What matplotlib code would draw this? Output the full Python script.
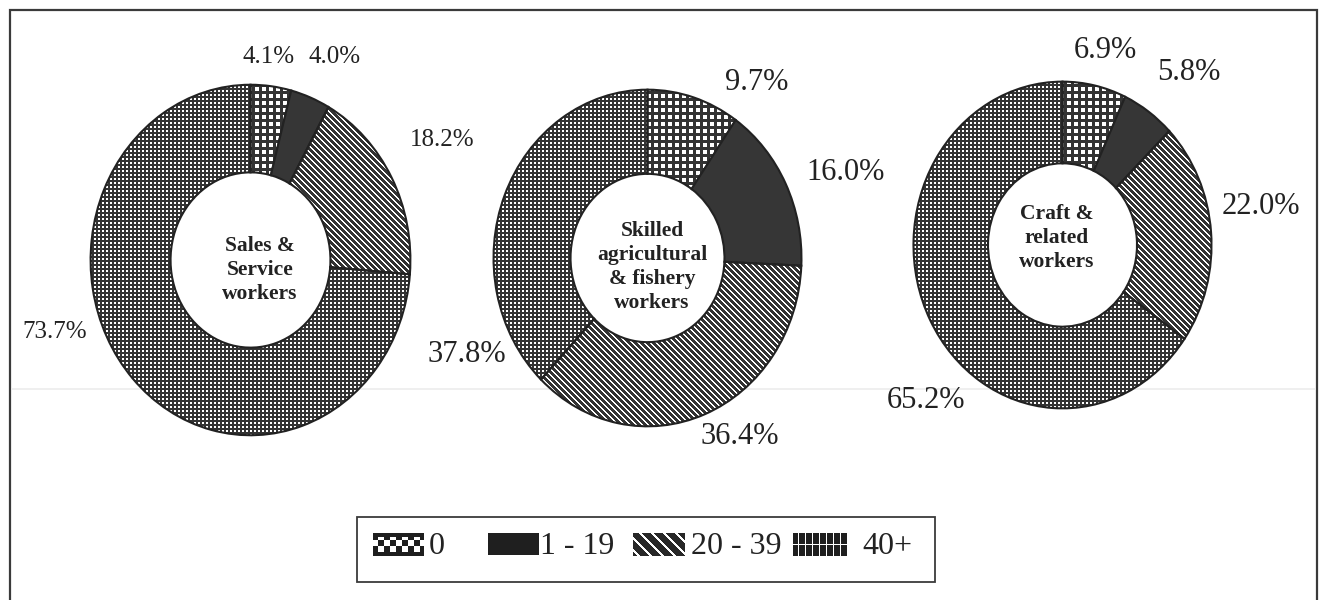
import numpy as np
import matplotlib
matplotlib.use("Agg")
import matplotlib.pyplot as plt
from matplotlib.patches import Rectangle

plt.rcParams['font.family'] = ['Liberation Serif', 'DejaVu Serif']

# ---- data -------------------------------------------------------------
groups = ["0", "1 - 19", "20 - 39", "40+"]
occupations = [
    "Sales &\nService\nworkers",
    "Skilled\nagricultural\n& fishery\nworkers",
    "Craft &\nrelated\nworkers",
]
sales_service = [4.1, 4.0, 18.2, 73.7]
skilled_agri = [9.7, 16.0, 36.4, 37.8]
craft_related = [6.9, 5.8, 22.0, 65.2]
shares = [sales_service, skilled_agri, craft_related]

# ---- layout -----------------------------------------------------------
W, H = 1324, 600
DARK = (0.2, 0.2, 0.2, 1.0)
WHITE = (1.0, 1.0, 1.0, 1.0)
INK = "#222222"

# donut placement (pixel centre x, centre y, half width, half height)
donut_boxes = [
    (250.5, 260, 161.5, 177),
    (647.5, 258, 155.5, 170),
    (1062.5, 245, 150.5, 165),
]
label_font = [18, 22, 22]
# percentage label anchors, per donut and per group (pixels)
label_xy = [
    [(269, 57), (335, 57), (442, 140), (55, 332)],
    [(757, 82), (846, 173), (740, 437), (467, 355)],
    [(1105, 50), (1189, 72), (1261, 207), (926, 400)],
]
center_xy = [(260, 270), (652, 267), (1057, 238)]

# ---- fill patterns, built on the figure's pixel grid -------------------
yy, xx = np.mgrid[0:H, 0:W]


def pattern(mask, fg, bg):
    arr = np.empty((H, W, 4))
    arr[...] = bg
    arr[mask] = fg
    return arr


ring_patterns = {
    0: pattern((yy % 7 < 3) | (xx % 7 < 3), DARK, WHITE),      # coarse check
    2: pattern(((yy - xx) % 6) < 4, DARK, WHITE),              # diagonal
    3: pattern((yy % 4 < 2) | (xx % 4 < 2), DARK, WHITE),      # fine grid
}
key_patterns = {
    0: pattern(((yy // 6 + xx // 6) % 2 == 0) & (yy > 536) & (yy < 552),
               WHITE, (0.12, 0.12, 0.12, 1)),
    2: pattern(((yy - xx) % 12) < 3, WHITE, (0.16, 0.16, 0.16, 1)),
    3: pattern((xx % 7 == 0) | (yy == 544), WHITE, (0.12, 0.12, 0.12, 1)),
}

fig = plt.figure(figsize=(W / 100, H / 100), dpi=100)

# full-figure overlay in pixel coordinates
ov = fig.add_axes([0, 0, 1, 1], zorder=0)
ov.set_xlim(0, W)
ov.set_ylim(H, 0)
ov.axis("off")

# outer frame (bottom edge runs past the figure)
ov.plot([10, 10, 1317, 1317], [605, 10, 10, 605], color="#3a3a3a", lw=1.6,
        solid_joinstyle="miter")
ov.plot([12, 1315], [389, 389], color="#ececec", lw=1.2)

for i, vals in enumerate(shares):
    cx, cy, rx, ry = donut_boxes[i]
    ax = fig.add_axes([(cx - rx) / W, 1 - (cy + ry) / H, 2 * rx / W, 2 * ry / H],
                      zorder=2)
    wedges, _ = ax.pie(vals, startangle=90, counterclock=False, radius=1.0,
                       wedgeprops=dict(width=0.5, edgecolor=INK, linewidth=1.5))
    ax.set_aspect("auto")
    ax.set_xlim(-1.01, 1.01)
    ax.set_ylim(-1.01, 1.01)
    ax.axis("off")
    for k, w in enumerate(wedges):
        if k in ring_patterns:
            w.set_facecolor("none")
            im = fig.figimage(ring_patterns[k], xo=0, yo=0, origin="upper",
                              zorder=1)
            im.set_clip_path(w)
        else:
            w.set_facecolor("#363636")

    for v, (lx, ly) in zip(vals, label_xy[i]):
        ov.text(lx, ly, f"{v:.1f}%", ha="center", va="center",
                fontsize=label_font[i], color=INK)
    mx, my = center_xy[i]
    fig.text(mx / W, 1 - my / H, occupations[i], ha="center", va="center",
             fontsize=15.5, fontweight="bold", color=INK, linespacing=1.28,
             zorder=5)

# legend box
ov.add_patch(Rectangle((357, 517), 578, 65, fill=False, edgecolor="#3a3a3a",
                       lw=1.3))
legend_patch_x = [(373, 423), (488, 539), (633, 684), (793, 847)]
legend_text_x = [429, 540, 691, 862]
for k, ((x0, x1), tx, g) in enumerate(zip(legend_patch_x, legend_text_x, groups)):
    r = Rectangle((x0, 533), x1 - x0, 22, facecolor="#1f1f1f", lw=0)
    ov.add_patch(r)
    if k in key_patterns:
        im = fig.figimage(key_patterns[k], xo=0, yo=0, origin="upper", zorder=1)
        im.set_clip_path(r)
    ov.text(tx, 546, g, ha="left", va="center", fontsize=23, color=INK)

fig.savefig("out.png", dpi=100)
